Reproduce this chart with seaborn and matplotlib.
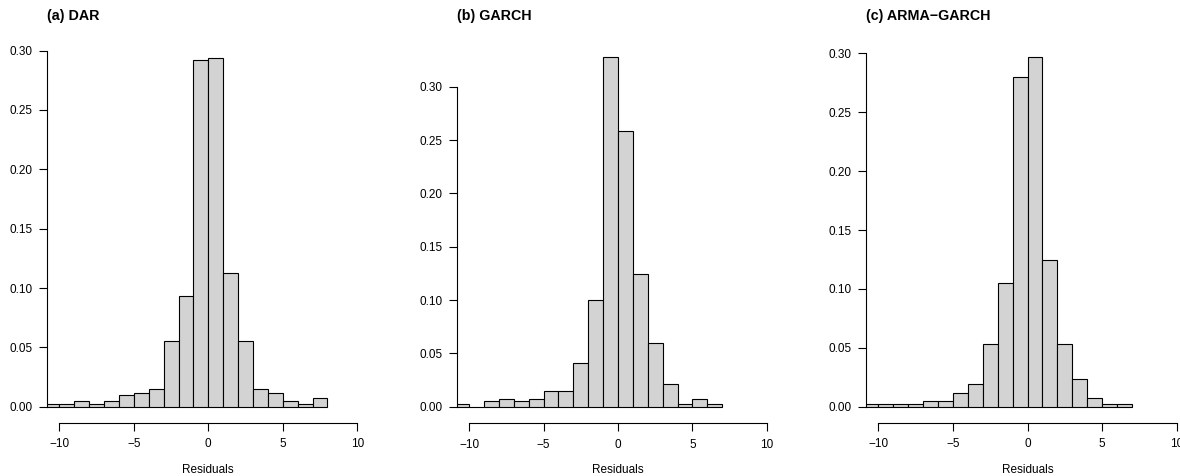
import numpy as np
import pandas as pd
import matplotlib
matplotlib.use("Agg")
import matplotlib.pyplot as plt
import seaborn as sns

# ---- data (bin width 1) ----
titles = ["(a) DAR", "(b) GARCH", "(c) ARMA\u2212GARCH"]
bin_start = [-11, -11, -11]
dens_dar = [0.0022, 0.0022, 0.0048, 0.0022, 0.0048, 0.0095, 0.0118, 0.0146,
            0.055, 0.0935, 0.292, 0.294, 0.1124, 0.055, 0.0146, 0.0118,
            0.0048, 0.0022, 0.007]
dens_garch = [0.0025, 0.0, 0.005, 0.0072, 0.005, 0.0072, 0.0144, 0.0144,
              0.0407, 0.1004, 0.3278, 0.2587, 0.1245, 0.060, 0.0216, 0.0025,
              0.0072, 0.0025]
dens_arma = [0.0023, 0.0023, 0.0023, 0.0023, 0.0048, 0.0048, 0.0119, 0.019,
             0.053, 0.105, 0.280, 0.2966, 0.1243, 0.053, 0.0238, 0.0071,
             0.0023, 0.0023]
x_ticks = [-10, -5, 0, 5, 10]
y_ticks = [0.00, 0.05, 0.10, 0.15, 0.20, 0.25, 0.30]
xlabel = "Residuals"

series = [dens_dar, dens_garch, dens_arma]

sns.set_style("ticks")
plt.rcParams["font.family"] = ["Liberation Sans", "DejaVu Sans"]
plt.rcParams["text.color"] = "black"
plt.rcParams["axes.labelcolor"] = "black"

W, H = 1180, 476
fig = plt.figure(figsize=(W / 100, H / 100), dpi=100)

# axes geometry in pixels: (left px, right px, top px, bottom px, ylim)
geoms = [
    (47.4, 369.2, 43.5, 423.0, (-0.0137, 0.306)),
    (457.1, 778.9, 43.5, 423.3, (-0.0156, 0.3407)),
    (866.4, 1188.6, 43.5, 423.0, (-0.0138, 0.3083)),
]

for i, (title, dens) in enumerate(zip(titles, series)):
    l, r, t, b, ylim = geoms[i]
    ax = fig.add_axes([l / W, (H - b) / H, (r - l) / W, (b - t) / H])
    lo = bin_start[i]
    hi = bin_start[i] + len(dens)
    centers = [lo + k + 0.5 for k in range(len(dens))]
    df = pd.DataFrame({"x": centers, "w": dens})
    sns.histplot(data=df, x="x", weights="w", binwidth=1, binrange=(lo, hi),
                 stat="count", color="#D3D3D3", edgecolor="black",
                 linewidth=0.8, alpha=1, ax=ax)
    ax.set_xlim(-10.8, 10.8)
    ax.set_ylim(*ylim)
    ax.set_xticks(x_ticks)
    ax.set_yticks(y_ticks)
    ax.set_xticklabels([f"{v}".replace("-", "\u2212") for v in x_ticks])
    ax.set_yticklabels([f"{v:.2f}" for v in y_ticks])
    for s in ["top", "right"]:
        ax.spines[s].set_visible(False)
    ax.spines["left"].set_bounds(0, 0.30)
    ax.spines["bottom"].set_bounds(-10, 10)
    for s in ["left", "bottom"]:
        ax.spines[s].set_linewidth(0.8)
        ax.spines[s].set_color("black")
    ax.tick_params(axis="both", direction="out", length=5.5, width=0.8,
                   labelsize=8.5, colors="black")
    ax.tick_params(axis="x", pad=5.5)
    ax.tick_params(axis="y", pad=5)
    ax.set_ylabel("")
    ax.set_xlabel(xlabel, fontsize=8.5, color="black")
    ax.xaxis.set_label_coords(0.5, -(470 - b) / (b - t))
    ax.xaxis.label.set_verticalalignment("center")
    ax.set_title(title, loc="left", y=(b - 20) / (b - t), pad=0,
                 fontsize=10.3, fontweight="bold", color="black")

fig.savefig("out.png", dpi=100)
